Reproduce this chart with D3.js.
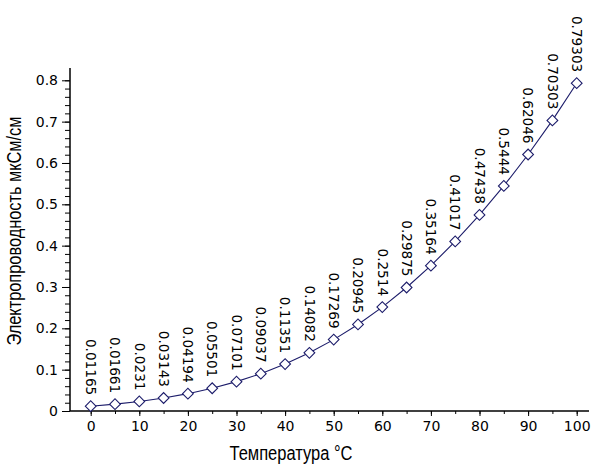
<!DOCTYPE html>
<html><head><meta charset="utf-8">
<script src="https://cdn.jsdelivr.net/npm/d3@7"></script>
<style>
html,body{margin:0;padding:0;background:#fff;}
svg{display:block;}
</style></head>
<body>
<svg id="chart" width="600" height="475"></svg>
<script>
const temperatures = [0,5,10,15,20,25,30,35,40,45,50,55,60,65,70,75,80,85,90,95,100];
const conductivity = [0.01165,0.01661,0.0231,0.03143,0.04194,0.05501,0.07101,0.09037,0.11351,0.14082,0.17269,0.20945,0.2514,0.29875,0.35164,0.41017,0.47438,0.5444,0.62046,0.70303,0.79303];
const valueLabels = ["0.01165","0.01661","0.0231","0.03143","0.04194","0.05501","0.07101","0.09037","0.11351","0.14082","0.17269","0.20945","0.2514","0.29875","0.35164","0.41017","0.47438","0.5444","0.62046","0.70303","0.79303"];
const xTicks = [0,10,20,30,40,50,60,70,80,90,100];
const yTicks = [0,0.1,0.2,0.3,0.4,0.5,0.6,0.7,0.8];
const xTitle = "Температура °C";
const yTitle = "Электропроводность мкСм/см";

const svg = d3.select("#chart");
const navy = "#1c1c6a";
const tickFont = "DejaVu Sans, sans-serif";
const titleFont = "'Liberation Sans Narrow', 'Liberation Sans', Arial, sans-serif";

const x = d3.scaleLinear().domain([0,100]).range([90.7,576.7]);
const y = d3.scaleLinear().domain([0,0.8]).range([411,80.3]);
const axisLeftX = 70, axisRightX = 589, axisTopY = 68;

// Y axis minor ticks
const yMinor = d3.range(0,0.801,0.02).map(v=>+v.toFixed(2));
const gy = svg.append("g").attr("transform",`translate(${axisLeftX},0)`);
gy.append("g").call(d3.axisLeft(y).tickValues(yMinor).tickSize(5).tickFormat(""))
  .call(g=>g.select(".domain").remove());
gy.append("g").call(d3.axisLeft(y).tickValues(yTicks).tickSize(8).tickPadding(4)
    .tickFormat(d=> d===0 ? "0" : d3.format(".1f")(d)))
  .call(g=>g.select(".domain").remove())
  .call(g=>g.selectAll("text").attr("font-family",tickFont).attr("font-size",14).attr("fill","#000"));
gy.selectAll("line").attr("stroke","#000");
gy.append("line").attr("x1",0).attr("x2",0).attr("y1",axisTopY).attr("y2",y(0)).attr("stroke","#000").attr("stroke-width",1.5);

// X axis
const xMinor = d3.range(0,101,5);
const gx = svg.append("g").attr("transform",`translate(0,${y(0)})`);
gx.append("g").call(d3.axisBottom(x).tickValues(xMinor).tickSize(3).tickFormat(""))
  .call(g=>g.select(".domain").remove());
gx.append("g").call(d3.axisBottom(x).tickValues(xTicks).tickSize(5).tickPadding(5))
  .call(g=>g.select(".domain").remove())
  .call(g=>g.selectAll("text").attr("font-family",tickFont).attr("font-size",14).attr("fill","#000"));
gx.selectAll("line").attr("stroke","#000");
gx.append("line").attr("x1",axisLeftX).attr("x2",axisRightX).attr("y1",0).attr("y2",0).attr("stroke","#000").attr("stroke-width",1.5);

// Titles (condensed look)
svg.append("text").attr("x",291).attr("y",460).attr("text-anchor","middle")
  .attr("font-family",titleFont).attr("font-size",20).attr("fill","#000")
  .attr("textLength",123).attr("lengthAdjust","spacingAndGlyphs").text(xTitle);
svg.append("text").attr("transform","translate(21,231) rotate(-90)").attr("text-anchor","middle")
  .attr("font-family",titleFont).attr("font-size",19.5).attr("fill","#000")
  .attr("textLength",229).attr("lengthAdjust","spacingAndGlyphs").text(yTitle);

const data = temperatures.map((t,i)=>({t, v:conductivity[i], label:valueLabels[i]}));

// line
svg.append("path").datum(data)
  .attr("d", d3.line().x(d=>x(d.t)).y(d=>y(d.v)))
  .attr("fill","none").attr("stroke",navy).attr("stroke-width",1.1);

// markers
svg.append("g").selectAll("path").data(data).join("path")
  .attr("transform",d=>`translate(${x(d.t)},${y(d.v)}) rotate(45)`)
  .attr("d","M-3.8,-3.8H3.8V3.8H-3.8Z")
  .attr("fill","#fff").attr("stroke",navy).attr("stroke-width",1.1);

// value labels
svg.append("g").selectAll("text").data(data).join("text")
  .attr("transform",d=>`translate(${x(d.t)},${y(d.v)-11}) rotate(90)`)
  .attr("text-anchor","end").attr("dy","0.35em")
  .attr("font-family",tickFont).attr("font-size",13.6).attr("fill","#000")
  .text(d=>d.label);
</script>
</body></html>
